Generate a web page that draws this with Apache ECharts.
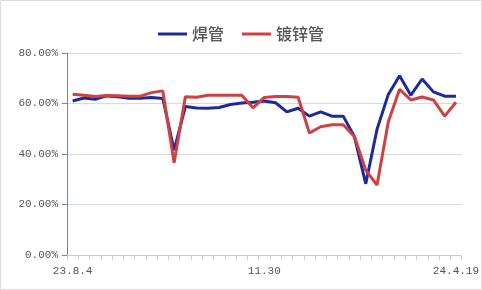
<!DOCTYPE html>
<html><head><meta charset="utf-8">
<script src="https://cdn.jsdelivr.net/npm/echarts@6/dist/echarts.min.js"></script>
<style>html,body{margin:0;padding:0;background:#fff}#c{width:482px;height:290px}</style>
</head><body><div id="c"></div>
<script>
var categories = ['23.8.4','8.11','8.18','8.25','9.1','9.8','9.15','9.22','9.28','10.7','10.13','10.20','10.27','11.3','11.10','11.17','11.24','11.30','12.8','12.15','12.22','12.29','1.5','1.12','1.19','1.26','2.8','2.23','3.1','3.8','3.15','3.22','3.29','4.12','24.4.19'];
var weldedPipe = [61.0,62.2,61.7,63.0,62.7,62.1,62.1,62.4,62.0,41.5,58.8,58.2,58.1,58.4,59.6,60.2,60.5,61.0,60.3,56.7,58.1,55.0,56.7,55.0,55.0,46.8,28.2,49.8,63.6,71.0,63.3,69.7,64.6,62.9,62.9];
var galvanizedPipe = [63.7,63.3,62.8,63.2,63.1,62.9,62.9,64.3,65.0,36.5,62.7,62.5,63.3,63.3,63.3,63.3,58.3,62.4,62.8,62.8,62.5,48.3,50.8,51.6,51.6,46.8,33.6,27.7,52.8,65.6,61.4,62.6,61.4,55.0,60.5];
var seriesNames = ['焊管','镀锌管'];
var yTicks = [0,20,40,60,80];

var chart = echarts.init(document.getElementById('c'));
var labelFont = 'Liberation Mono, DejaVu Sans Mono, monospace';
chart.setOption({
  animation:false,
  graphic:[{type:'rect',shape:{x:0.5,y:0.5,width:481,height:289},style:{fill:'none',stroke:'#dcdcdc',lineWidth:1},silent:true}],
  legend:{
    top:21,left:'center',icon:'rect',itemWidth:29,itemHeight:3,itemGap:18,
    textStyle:{fontSize:16,color:'#555',fontFamily:'Noto Sans CJK SC',fontWeight:500},
    data:seriesNames
  },
  grid:{left:67,right:16,top:53,bottom:35,containLabel:false},
  xAxis:{
    type:'category',data:categories,boundaryGap:true,
    axisLine:{lineStyle:{color:'#ccc'}},
    axisTick:{show:true,interval:0,length:5,lineStyle:{color:'#ccc'}},
    axisLabel:{interval:16,color:'#555',fontSize:11,fontFamily:labelFont,margin:11}
  },
  yAxis:{
    type:'value',min:yTicks[0],max:yTicks[yTicks.length-1],interval:20,
    axisLine:{show:true,lineStyle:{color:'#6a8aa8'}},
    axisTick:{show:true,length:5,lineStyle:{color:'#6a8aa8'}},
    splitLine:{lineStyle:{color:'#d9d9d9'}},
    axisLabel:{color:'#555',fontSize:11,fontFamily:labelFont,margin:9,formatter:function(v){return v.toFixed(2)+'%';}}
  },
  series:[
    {name:seriesNames[0],type:'line',data:weldedPipe,showSymbol:false,symbol:'none',lineStyle:{width:3,color:'#1c2a9c'},itemStyle:{color:'#1c2a9c'}},
    {name:seriesNames[1],type:'line',data:galvanizedPipe,showSymbol:false,symbol:'none',lineStyle:{width:3,color:'#d04040'},itemStyle:{color:'#d04040'}}
  ]
});
</script></body></html>
